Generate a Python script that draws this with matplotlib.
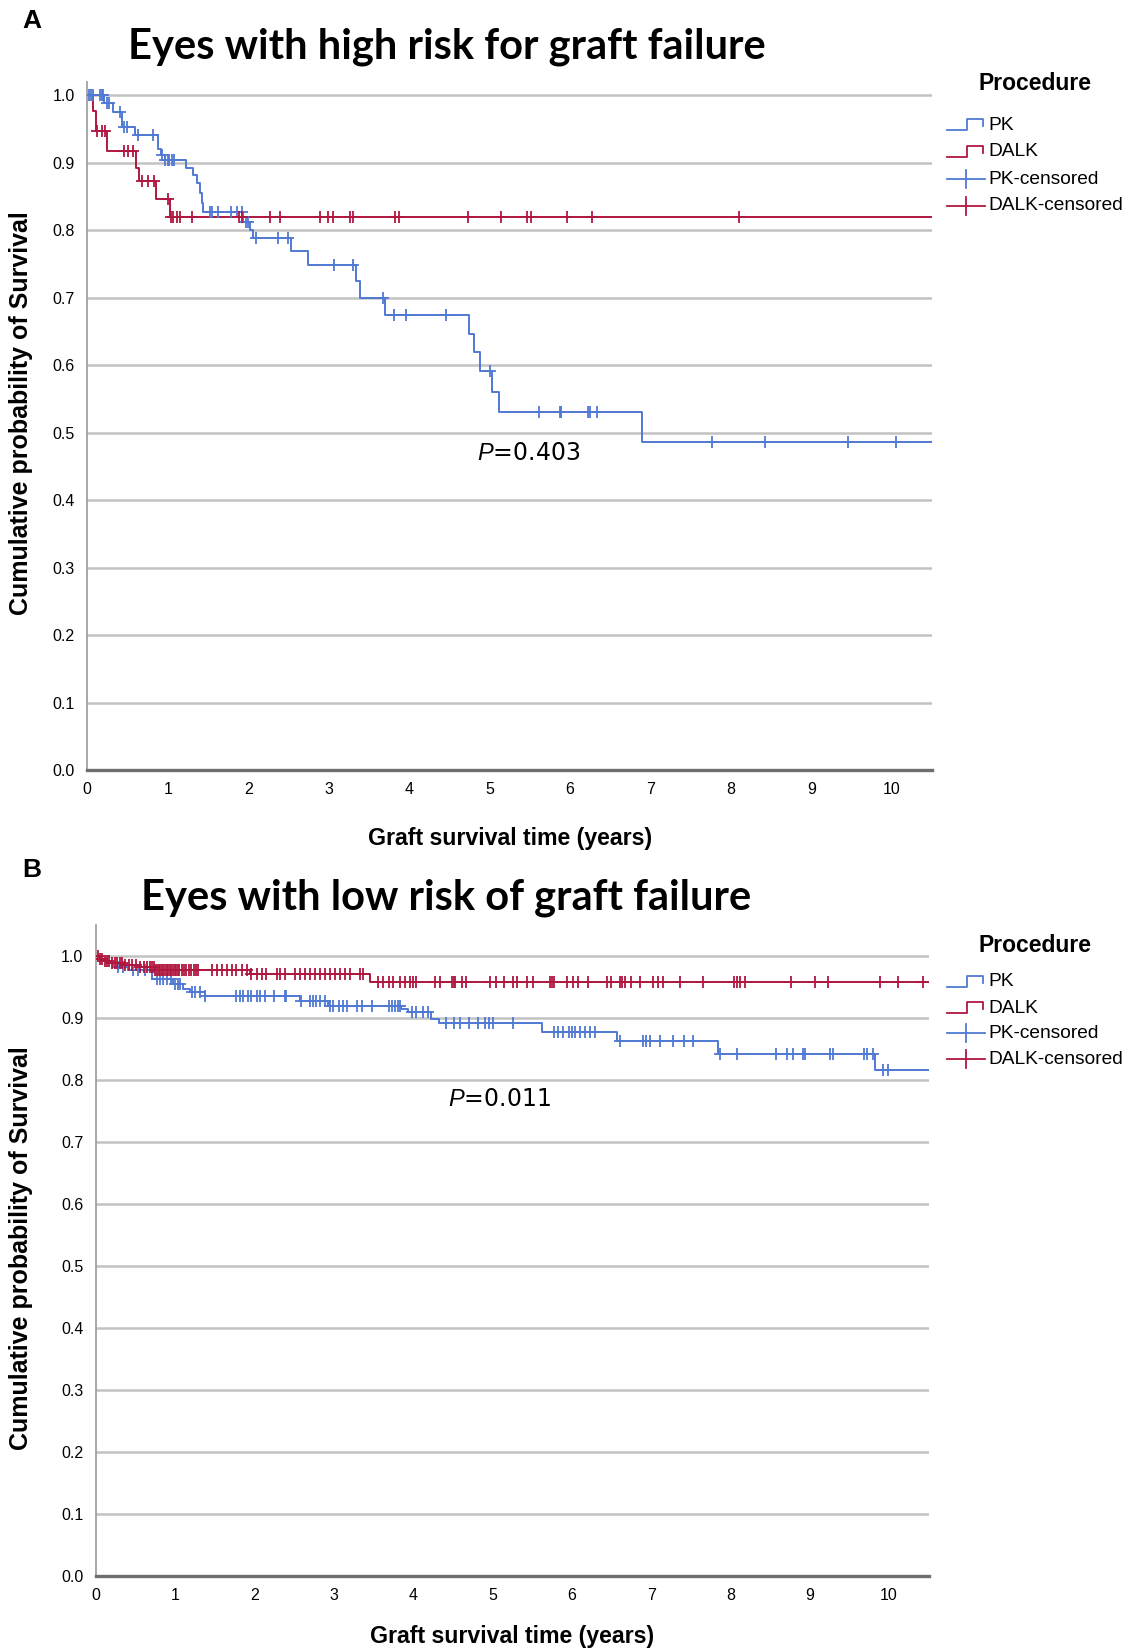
import numpy as np
import matplotlib
matplotlib.use("Agg")
import matplotlib.pyplot as plt
from matplotlib.lines import Line2D

plt.rcParams['mathtext.fontset'] = 'custom'
plt.rcParams['mathtext.rm'] = 'Liberation Sans'
plt.rcParams['mathtext.it'] = 'Liberation Sans:italic'

PK_BLUE = '#5079d4'
DALK_RED = '#b0173f'
NARROW = ['Liberation Sans Narrow', 'Liberation Sans', 'DejaVu Sans']

# ---- Panel A: eyes with high risk for graft failure ----
pk_hi_times = [0.21, 0.32, 0.43, 0.59, 0.88, 0.92, 0.96, 1.23, 1.32, 1.36, 1.40, 1.42, 1.44,
               1.94, 2.02, 2.06, 2.53, 2.74, 3.34, 3.39, 3.70, 4.74, 4.81, 4.88, 5.03, 5.12, 6.89]
pk_hi_surv = [0.989, 0.976, 0.954, 0.942, 0.921, 0.912, 0.904, 0.893, 0.882, 0.870, 0.855, 0.840, 0.828,
              0.813, 0.800, 0.789, 0.769, 0.749, 0.725, 0.700, 0.675, 0.646, 0.619, 0.591, 0.561, 0.531, 0.487]
pk_hi_cens = [0.025, 0.05, 0.075, 0.16, 0.18, 0.20, 0.24, 0.27, 0.41, 0.45, 0.49, 0.63, 0.82,
              0.93, 0.97, 1.00, 1.02, 1.05, 1.08, 1.52, 1.55, 1.62, 1.79, 1.86, 1.92, 1.97, 2.00,
              2.10, 2.37, 2.50, 3.07, 3.30, 3.68, 3.81, 3.96, 4.46, 5.00, 5.62, 5.87, 5.89,
              6.22, 6.25, 6.33, 7.77, 8.43, 9.46, 10.05]
dalk_hi_times = [0.075, 0.11, 0.25, 0.61, 0.64, 0.86, 1.03]
dalk_hi_surv = [0.977, 0.947, 0.917, 0.893, 0.873, 0.846, 0.820]
dalk_hi_cens = [0.12, 0.18, 0.22, 0.46, 0.50, 0.57, 0.68, 0.75, 0.83, 1.00, 1.04, 1.07, 1.11,
                1.15, 1.30, 1.88, 1.92, 2.27, 2.39, 2.89, 2.99, 3.06, 3.26, 3.30, 3.82, 3.87,
                4.73, 5.14, 5.46, 5.51, 5.96, 6.27, 8.10]
hi_followup_end = 10.5
hi_p_value = 0.403

# ---- Panel B: eyes with low risk of graft failure ----
pk_lo_times = [0.06, 0.12, 0.22, 0.40, 0.70, 0.97, 1.10, 1.19, 1.37, 2.57, 2.93, 3.85, 3.93,
               4.23, 4.32, 5.62, 6.57, 7.85, 9.82]
pk_lo_surv = [0.994, 0.988, 0.981, 0.976, 0.962, 0.954, 0.946, 0.941, 0.935, 0.927, 0.918, 0.914, 0.909,
              0.898, 0.892, 0.877, 0.862, 0.841, 0.815]
pk_lo_cens = [0.28, 0.34, 0.47, 0.53, 0.62, 0.77, 0.81, 0.85, 0.89, 0.94, 1.00, 1.04, 1.06,
              1.21, 1.25, 1.31, 1.37, 1.77, 1.82, 1.86, 1.92, 1.96, 2.03, 2.07, 2.13, 2.24, 2.38,
              2.40, 2.59, 2.70, 2.74, 2.78, 2.82, 2.89, 2.95, 2.99, 3.06, 3.12, 3.16, 3.29, 3.35,
              3.48, 3.69, 3.73, 3.77, 3.81, 3.83, 3.98, 4.04, 4.13, 4.19, 4.42, 4.51, 4.59, 4.70,
              4.82, 4.91, 4.95, 5.01, 5.26, 5.77, 5.83, 5.89, 5.96, 6.00, 6.04, 6.10, 6.17, 6.23,
              6.29, 6.61, 6.90, 6.94, 6.99, 7.11, 7.28, 7.41, 7.53, 7.87, 8.08, 8.58, 8.71, 8.79,
              8.92, 8.94, 9.26, 9.30, 9.68, 9.72, 9.80, 9.93, 9.99]
dalk_lo_times = [0.05, 0.10, 0.20, 0.35, 0.55, 0.75, 1.94, 3.46]
dalk_lo_surv = [0.995, 0.991, 0.988, 0.984, 0.981, 0.977, 0.970, 0.958]
dalk_lo_cens = [0.02, 0.05, 0.08, 0.11, 0.14, 0.17, 0.20, 0.24, 0.27, 0.30, 0.33, 0.37, 0.41,
                0.45, 0.50, 0.55, 0.60, 0.64, 0.68, 0.71, 0.73, 0.75, 0.77, 0.79, 0.81, 0.83, 0.85,
                0.87, 0.89, 0.91, 0.93, 0.95, 0.97, 0.99, 1.01, 1.03, 1.05, 1.08, 1.11, 1.14, 1.17,
                1.20, 1.23, 1.26, 1.29, 1.46, 1.52, 1.59, 1.65, 1.71, 1.77, 1.84, 1.90, 1.96, 2.03,
                2.09, 2.15, 2.28, 2.32, 2.38, 2.51, 2.57, 2.64, 2.70, 2.76, 2.82, 2.89, 2.95, 3.01,
                3.08, 3.14, 3.20, 3.33, 3.37, 3.56, 3.62, 3.69, 3.75, 3.83, 3.90, 3.96, 4.00, 4.04,
                4.27, 4.34, 4.49, 4.51, 4.53, 4.61, 4.67, 4.97, 5.05, 5.14, 5.26, 5.31, 5.43, 5.51,
                5.73, 5.75, 5.77, 5.94, 6.02, 6.08, 6.21, 6.44, 6.50, 6.61, 6.63, 6.67, 6.75, 6.86,
                7.03, 7.09, 7.15, 7.36, 7.66, 8.04, 8.08, 8.12, 8.18, 8.77, 9.07, 9.23, 9.89, 10.12,
                10.43]
lo_followup_end = 10.5
lo_p_value = 0.011

legend_labels = ['PK', 'DALK', 'PK-censored', 'DALK-censored']

W, H = 1131, 1652


def fx(x):
    return x / W


def fy(y):
    return 1 - y / H


def km_curve(ax, times, surv, cens, end, color):
    t = np.r_[0.0, times, end]
    s = np.r_[1.0, surv, surv[-1]]
    ax.step(t, s, where='post', color=color, lw=1.4, zorder=3)
    idx = np.searchsorted(times, cens, side='right')
    s_c = np.r_[1.0, surv][idx]
    ax.plot(cens, s_c, ls='none', marker='+', ms=8, mew=1.3, color=color, zorder=4)


def style_axes(ax, ytop):
    ax.set_xlim(0, 10.5)
    ax.set_ylim(0, ytop)
    ax.set_xticks(range(0, 11))
    ax.set_yticks(np.arange(0, 1.01, 0.1))
    ax.set_yticklabels(['{:.1f}'.format(v) for v in np.arange(0, 1.01, 0.1)])
    ax.yaxis.grid(True, color='#c2c2c2', lw=1.8)
    ax.set_axisbelow(True)
    ax.spines['top'].set_visible(False)
    ax.spines['right'].set_visible(False)
    ax.spines['left'].set_color('#9a9a9a')
    ax.spines['left'].set_linewidth(1.2)
    ax.spines['bottom'].set_color('#6e6e6e')
    ax.spines['bottom'].set_linewidth(2.4)
    ax.tick_params(length=0, labelsize=11.5, pad=9)
    for lab in ax.get_xticklabels() + ax.get_yticklabels():
        lab.set_family(NARROW)


def draw_legend(fig, y_head, rows_y):
    fig.text(fx(1035), fy(y_head), 'Procedure', ha='center', va='center',
             fontsize=16.5, fontweight='bold', family='Liberation Sans')
    colors = [PK_BLUE, DALK_RED, PK_BLUE, DALK_RED]
    for i, (lab, col, y) in enumerate(zip(legend_labels, colors, rows_y)):
        if i < 2:
            xs = [947, 967, 967, 983, 983]
            ys = [y + 5, y + 5, y - 6, y - 6, y + 1]
        else:
            xs = [947, 985]
            ys = [y, y]
            fig.add_artist(Line2D([fx(966), fx(966)], [fy(y - 9), fy(y + 9)],
                                  transform=fig.transFigure, color=col, lw=1.3))
        fig.add_artist(Line2D([fx(v) for v in xs], [fy(v) for v in ys],
                              transform=fig.transFigure, color=col, lw=1.3))
        fig.text(fx(988), fy(y), lab, va='center', ha='left', fontsize=13.8,
                 family='Liberation Sans')


fig = plt.figure(figsize=(W / 100, H / 100), dpi=100)

# panel A
ax1 = fig.add_axes([fx(87.3), fy(770), 844.7 / W, 688 / H])
km_curve(ax1, pk_hi_times, pk_hi_surv, pk_hi_cens, hi_followup_end, PK_BLUE)
km_curve(ax1, dalk_hi_times, dalk_hi_surv, dalk_hi_cens, hi_followup_end, DALK_RED)
style_axes(ax1, 1.02)
ax1.text(4.84, 0.47, r'$\it{P}$=' + '{:.3f}'.format(hi_p_value), fontsize=17, va='center', ha='left')

# panel B
ax2 = fig.add_axes([fx(96), fy(1576), 832.6 / W, 651.5 / H])
km_curve(ax2, pk_lo_times, pk_lo_surv, pk_lo_cens, lo_followup_end, PK_BLUE)
km_curve(ax2, dalk_lo_times, dalk_lo_surv, dalk_lo_cens, lo_followup_end, DALK_RED)
style_axes(ax2, 1.05)
ax2.text(4.44, 0.769, r'$\it{P}$=' + '{:.3f}'.format(lo_p_value), fontsize=17, va='center', ha='left')

# titles, panel letters, axis labels
fig.text(fx(128), fy(47), 'Eyes with high risk for graft failure', fontsize=30,
         fontweight='bold', family='Lato', va='center', ha='left')
fig.text(fx(141), fy(898), 'Eyes with low risk of graft failure', fontsize=30,
         fontweight='bold', family='Lato', va='center', ha='left')
fig.text(fx(22), fy(21), 'A', fontsize=19, fontweight='bold', family='Liberation Sans', va='center')
fig.text(fx(22), fy(870), 'B', fontsize=19, fontweight='bold', family='Liberation Sans', va='center')

for yc in (413, 1248):
    fig.text(fx(21), fy(yc), 'Cumulative probability of Survival', rotation=90,
             fontsize=18, fontweight='bold', family='Liberation Sans', va='center', ha='center')
for xc, yc in ((510, 839), (512, 1637)):
    fig.text(fx(xc), fy(yc), 'Graft survival time (years)', fontsize=16.7,
             fontweight='bold', family=NARROW, va='center', ha='center')

draw_legend(fig, 83, [125, 152, 179, 206])
draw_legend(fig, 946, [982, 1008, 1033, 1059])

fig.savefig('out.png', dpi=100)
